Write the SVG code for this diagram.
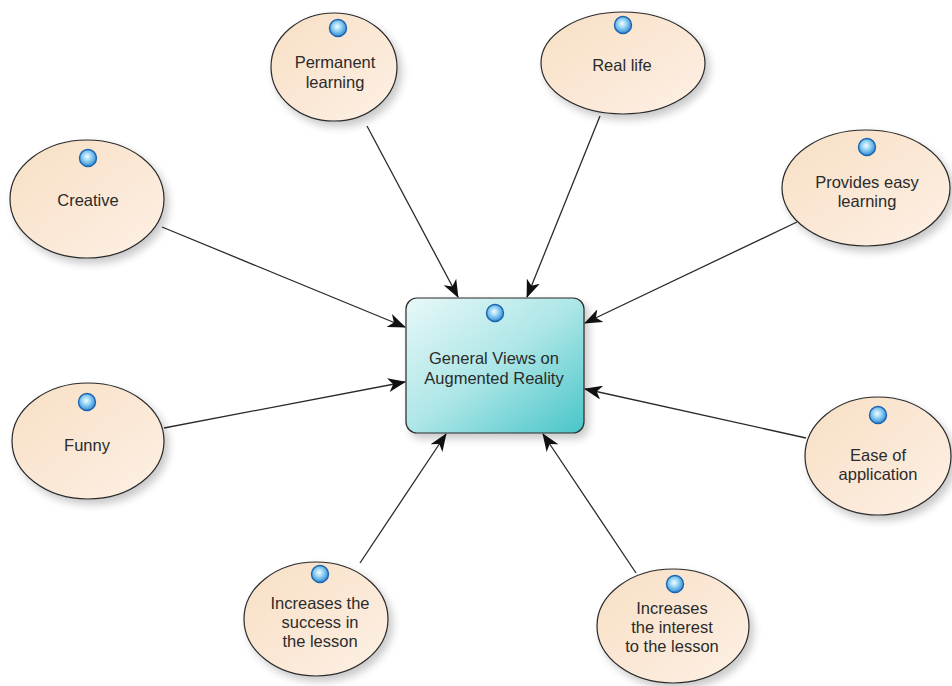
<svg xmlns="http://www.w3.org/2000/svg" width="952" height="686" viewBox="0 0 952 686">
  <defs>
    <style>
      .node-shape { stroke: #2a2a2a; stroke-width: 1.2; }
      .ell { fill: url(#peach); }
      .box { fill: url(#teal); }
      .lbl { font-family: "Liberation Sans", Arial, sans-serif; font-size: 16.5px; fill: #2b2b2b; text-anchor: middle; }
      .conn { stroke: #2a2a2a; stroke-width: 1.3; fill: none; marker-end: url(#arrow); }
      .bub { fill: url(#ball); stroke: #1a64b0; stroke-width: 1.4; }
    </style>
    <linearGradient id="peach" x1="0" y1="0" x2="1" y2="1">
      <stop offset="0" stop-color="#f8dfc4"/>
      <stop offset="0.6" stop-color="#fbe9d8"/>
      <stop offset="1" stop-color="#fdf1e5"/>
    </linearGradient>
    <linearGradient id="teal" x1="0" y1="0" x2="1" y2="1">
      <stop offset="0" stop-color="#e8f8f8"/>
      <stop offset="0.5" stop-color="#ade6e7"/>
      <stop offset="1" stop-color="#48c5c8"/>
    </linearGradient>
    <radialGradient id="ball" cx="0.45" cy="0.42" r="0.6">
      <stop offset="0" stop-color="#f6fcff"/>
      <stop offset="0.4" stop-color="#9ad6f5"/>
      <stop offset="1" stop-color="#2a86d2"/>
    </radialGradient>
    <filter id="shadow" x="-20%" y="-20%" width="150%" height="150%">
      <feGaussianBlur in="SourceAlpha" stdDeviation="4"/>
      <feOffset dx="4" dy="5" result="b"/>
      <feComponentTransfer><feFuncA type="linear" slope="0.22"/></feComponentTransfer>
      <feMerge><feMergeNode/><feMergeNode in="SourceGraphic"/></feMerge>
    </filter>
    <marker id="arrow" viewBox="0 0 18 14" refX="17" refY="7" markerWidth="18" markerHeight="14" markerUnits="userSpaceOnUse" orient="auto">
      <path d="M0,0 L18,7 L0,14 L5,7 Z" fill="#111"/>
    </marker>
  </defs>

  <rect width="952" height="686" fill="#ffffff"/>

  <!-- connectors -->
  <g id="connectors">
    <line class="conn" x1="367" y1="126" x2="458" y2="297"/>
    <line class="conn" x1="600" y1="116" x2="527" y2="297"/>
    <line class="conn" x1="162" y1="227" x2="405" y2="327"/>
    <line class="conn" x1="797" y1="222" x2="585" y2="323"/>
    <line class="conn" x1="164" y1="428" x2="405" y2="382"/>
    <line class="conn" x1="806" y1="438" x2="585" y2="389"/>
    <line class="conn" x1="360" y1="563" x2="446" y2="434"/>
    <line class="conn" x1="636" y1="573" x2="543" y2="434"/>
  </g>

  <!-- central node -->
  <g id="general-views">
    <rect class="node-shape box" x="406" y="298" width="178" height="135" rx="11" filter="url(#shadow)"/>
    <circle class="bub" cx="495" cy="313" r="8.5"/>
    <text class="lbl" x="494" y="364">General Views on</text>
    <text class="lbl" x="494" y="384">Augmented Reality</text>
  </g>

  <g id="permanent-learning">
    <ellipse class="node-shape ell" cx="334" cy="67" rx="63" ry="54" filter="url(#shadow)"/>
    <circle class="bub" cx="338" cy="28" r="8.5"/>
    <text class="lbl" x="335" y="68">Permanent</text>
    <text class="lbl" x="335" y="88">learning</text>
  </g>

  <g id="real-life">
    <ellipse class="node-shape ell" cx="623" cy="63" rx="82" ry="51" filter="url(#shadow)"/>
    <circle class="bub" cx="623" cy="25" r="8.5"/>
    <text class="lbl" x="622" y="71">Real life</text>
  </g>

  <g id="creative">
    <ellipse class="node-shape ell" cx="87" cy="199" rx="77" ry="59" filter="url(#shadow)"/>
    <circle class="bub" cx="88" cy="158" r="8.5"/>
    <text class="lbl" x="88" y="206">Creative</text>
  </g>

  <g id="provides-easy-learning">
    <ellipse class="node-shape ell" cx="866" cy="188" rx="84" ry="58" filter="url(#shadow)"/>
    <circle class="bub" cx="867" cy="147" r="8.5"/>
    <text class="lbl" x="867" y="188">Provides easy</text>
    <text class="lbl" x="867" y="207">learning</text>
  </g>

  <g id="funny">
    <ellipse class="node-shape ell" cx="88" cy="441" rx="76" ry="58" filter="url(#shadow)"/>
    <circle class="bub" cx="87" cy="402" r="8.5"/>
    <text class="lbl" x="87" y="451">Funny</text>
  </g>

  <g id="ease-of-application">
    <ellipse class="node-shape ell" cx="878" cy="456" rx="73" ry="59" filter="url(#shadow)"/>
    <circle class="bub" cx="878" cy="415" r="8.5"/>
    <text class="lbl" x="878" y="461">Ease of</text>
    <text class="lbl" x="878" y="480">application</text>
  </g>

  <g id="increases-success">
    <ellipse class="node-shape ell" cx="316" cy="619" rx="72" ry="57" filter="url(#shadow)"/>
    <circle class="bub" cx="320" cy="574" r="8.5"/>
    <text class="lbl" x="320" y="609">Increases the</text>
    <text class="lbl" x="320" y="628">success in</text>
    <text class="lbl" x="320" y="647">the lesson</text>
  </g>

  <g id="increases-interest">
    <ellipse class="node-shape ell" cx="673" cy="626" rx="76" ry="57" filter="url(#shadow)"/>
    <circle class="bub" cx="675" cy="584" r="8.5"/>
    <text class="lbl" x="672" y="614">Increases</text>
    <text class="lbl" x="672" y="633">the interest</text>
    <text class="lbl" x="672" y="652">to the lesson</text>
  </g>
</svg>
